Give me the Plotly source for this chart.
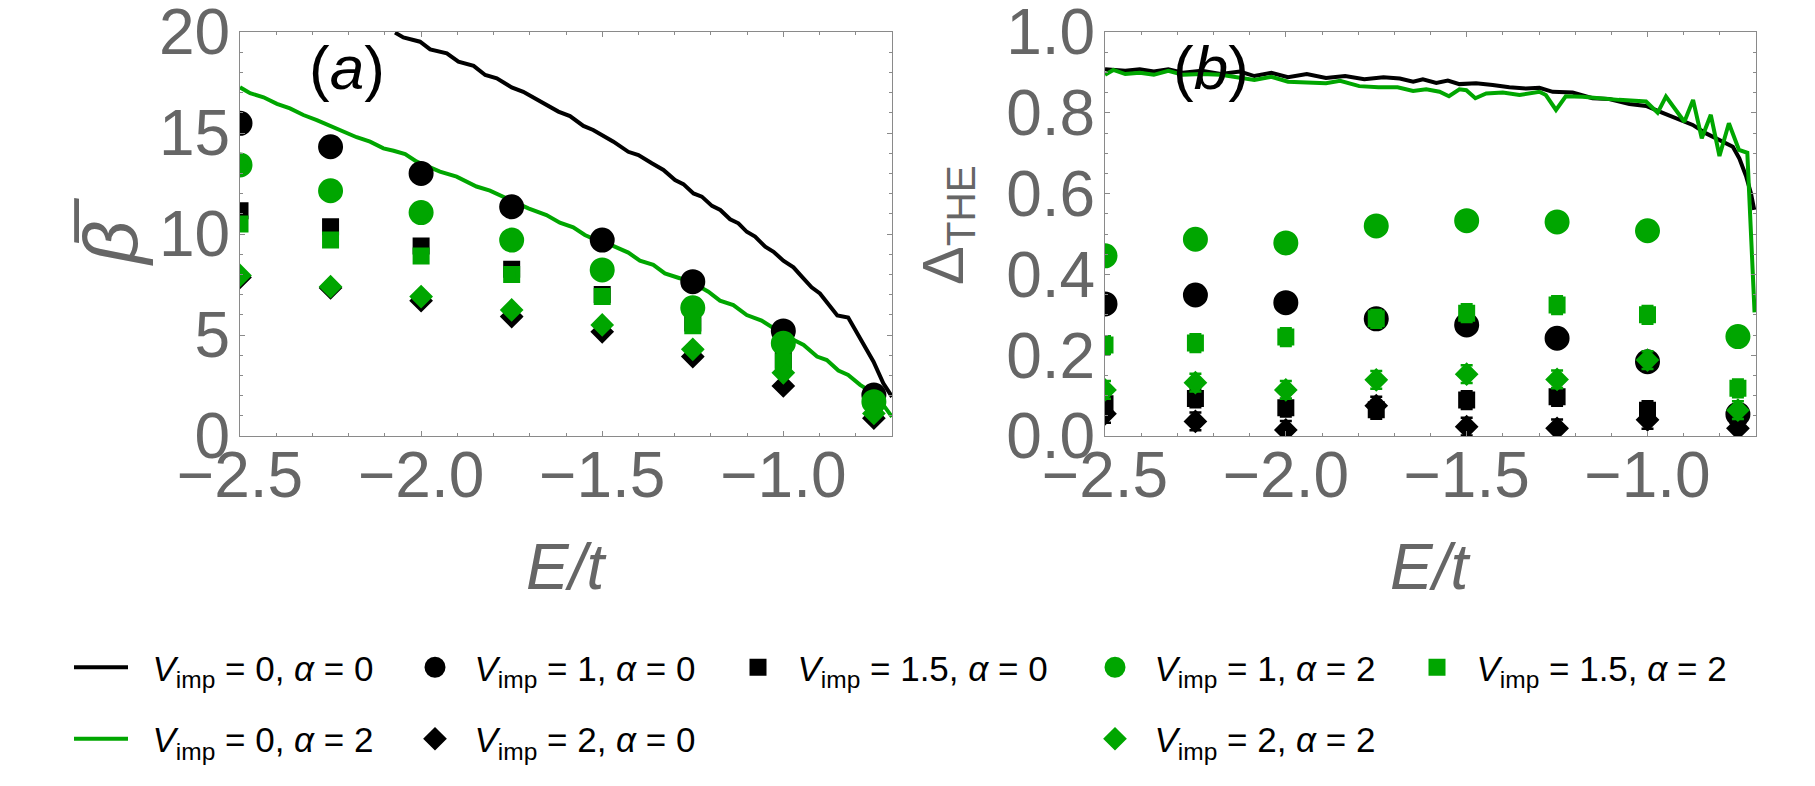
import plotly.graph_objects as go

# ---- data ----
E_pts = [-2.5, -2.25, -2.0, -1.75, -1.5, -1.25, -1.0, -0.75]

# panel (a): beta-bar
beta_v1_a0 = [15.48, 14.32, 13.0, 11.35, 9.7, 7.64, 5.2, 2.03]
beta_v15_a0 = [11.15, 10.36, 9.4, 8.25, 7.01, 5.6, 3.75, 1.3]
beta_v2_a0 = [7.85, 7.33, 6.7, 5.91, 5.16, 3.93, 2.48, 0.88]
beta_v1_a2 = [13.42, 12.14, 11.06, 9.7, 8.22, 6.35, 4.59, 1.7]
beta_v15_a2 = [10.5, 9.7, 8.91, 8.0, 6.9, 5.46, 3.68, 1.4]
beta_v2_a2 = [7.95, 7.39, 6.9, 6.24, 5.5, 4.29, 3.13, 1.12]

beta_line_a0_E = [-2.072, -2.049, -2.003, -1.975, -1.929, -1.897, -1.855, -1.823, -1.791, -1.750,
                  -1.718, -1.662, -1.621, -1.589, -1.552, -1.525, -1.469, -1.428, -1.400, -1.363,
                  -1.331, -1.299, -1.276, -1.248, -1.225, -1.197, -1.174, -1.147, -1.124, -1.101,
                  -1.078, -1.050, -1.027, -1.000, -0.972, -0.949, -0.922, -0.899, -0.876, -0.851,
                  -0.821, -0.788, -0.751, -0.724, -0.700]
beta_line_a0 = [19.97, 19.73, 19.52, 19.14, 18.94, 18.53, 18.32, 17.87, 17.71, 17.26,
                17.04, 16.47, 16.06, 15.84, 15.35, 15.15, 14.57, 14.07, 13.91, 13.50,
                13.17, 12.67, 12.47, 12.01, 11.85, 11.39, 11.19, 10.73, 10.53, 10.11,
                9.87, 9.37, 9.12, 8.68, 8.35, 7.89, 7.36, 7.06, 6.53, 5.97,
                5.87, 4.83, 3.68, 2.61, 1.94]

beta_line_a2_E = [-2.5, -2.472, -2.435, -2.398, -2.362, -2.325, -2.288, -2.251, -2.215, -2.178,
                  -2.141, -2.104, -2.076, -2.044, -2.012, -1.948, -1.902, -1.847, -1.810, -1.773,
                  -1.741, -1.704, -1.654, -1.617, -1.580, -1.548, -1.516, -1.470, -1.428, -1.396,
                  -1.359, -1.327, -1.286, -1.244, -1.207, -1.175, -1.138, -1.101, -1.060, -1.027,
                  -0.990, -0.944, -0.907, -0.880, -0.848, -0.821, -0.788, -0.751, -0.724, -0.700]
beta_line_a2 = [17.26, 16.97, 16.77, 16.44, 16.22, 15.89, 15.64, 15.35, 15.12, 14.79,
                14.57, 14.24, 14.12, 13.96, 13.58, 13.09, 12.84, 12.35, 12.15, 11.85,
                11.60, 11.27, 10.94, 10.56, 10.33, 9.95, 9.70, 9.41, 9.08, 8.68,
                8.47, 8.05, 7.81, 7.52, 7.14, 6.70, 6.48, 5.99, 5.71, 5.33,
                4.92, 4.51, 3.93, 3.76, 3.24, 3.02, 2.53, 2.11, 1.54, 0.95]

# panel (b): Delta_THE
the_v1_a0 = [0.327, 0.349, 0.33, 0.29, 0.275, 0.242, 0.184, 0.054]
the_v15_a0 = [0.08, 0.093, 0.07, 0.065, 0.089, 0.097, 0.064, 0.05]
the_v2_a0 = [0.055, 0.036, 0.015, 0.075, 0.023, 0.019, 0.04, 0.019]
the_v1_a2 = [0.446, 0.487, 0.478, 0.52, 0.533, 0.53, 0.508, 0.246]
the_v15_a2 = [0.225, 0.23, 0.245, 0.29, 0.304, 0.324, 0.30, 0.118]
the_v2_a2 = [0.114, 0.132, 0.114, 0.139, 0.153, 0.14, 0.188, 0.064]
the_err_circle = [0.012, 0.012, 0.012, 0.012, 0.012, 0.012, 0.012, 0.012]
the_err_square = [0.022, 0.022, 0.022, 0.022, 0.022, 0.022, 0.022, 0.022]
the_err_diamond = [0.022, 0.022, 0.022, 0.022, 0.022, 0.022, 0.022, 0.022]

the_line_a0_E = [-2.5, -2.444, -2.404, -2.365, -2.325, -2.285, -2.233, -2.180, -2.127, -2.087,
                 -2.040, -1.994, -1.942, -1.889, -1.836, -1.783, -1.730, -1.685, -1.648, -1.621,
                 -1.584, -1.552, -1.520, -1.474, -1.428, -1.382, -1.336, -1.299, -1.262, -1.207,
                 -1.152, -1.106, -1.050, -1.004, -0.958, -0.912, -0.875, -0.838, -0.801, -0.764,
                 -0.746, -0.727, -0.714, -0.705]
the_line_a0 = [0.908, 0.904, 0.908, 0.902, 0.908, 0.899, 0.904, 0.896, 0.902, 0.891,
               0.899, 0.888, 0.896, 0.886, 0.891, 0.883, 0.888, 0.885, 0.877, 0.883,
               0.874, 0.880, 0.871, 0.873, 0.869, 0.863, 0.860, 0.862, 0.852, 0.850,
               0.836, 0.834, 0.822, 0.817, 0.800, 0.784, 0.770, 0.749, 0.733, 0.716,
               0.687, 0.642, 0.601, 0.560]

the_line_a2_E = [-2.5, -2.477, -2.444, -2.404, -2.365, -2.325, -2.285, -2.233, -2.180, -2.127,
                 -2.087, -2.040, -1.994, -1.942, -1.889, -1.850, -1.797, -1.744, -1.691, -1.648,
                 -1.612, -1.575, -1.549, -1.520, -1.501, -1.476, -1.446, -1.400, -1.354, -1.299,
                 -1.281, -1.253, -1.226, -1.180, -1.134, -1.079, -1.004, -0.972, -0.949, -0.898,
                 -0.874, -0.850, -0.825, -0.801, -0.775, -0.747, -0.724, -0.714, -0.704]
the_line_a2 = [0.894, 0.906, 0.896, 0.899, 0.894, 0.904, 0.894, 0.896, 0.894, 0.888,
               0.881, 0.889, 0.877, 0.875, 0.873, 0.879, 0.866, 0.863, 0.863, 0.854,
               0.858, 0.852, 0.841, 0.858, 0.856, 0.836, 0.848, 0.850, 0.844, 0.852,
               0.844, 0.807, 0.841, 0.840, 0.836, 0.832, 0.828, 0.800, 0.840, 0.778,
               0.832, 0.737, 0.795, 0.693, 0.774, 0.708, 0.701, 0.510, 0.306]

x_ticks = [-2.5, -2.0, -1.5, -1.0]
x_ticklabels = ["\u22122.5", "\u22122.0", "\u22121.5", "\u22121.0"]
ya_ticks = [0, 5, 10, 15, 20]
yb_ticks = [0.0, 0.2, 0.4, 0.6, 0.8, 1.0]
yb_ticklabels = ["0.0", "0.2", "0.4", "0.6", "0.8", "1.0"]

# ---- styling ----
W, H = 1815, 786
OFF = 8  # page body margin
BLACK = "#000000"
GREEN = "#00a600"
GRAY = "#666666"
AXGRAY = "#8a8a8a"
FONT = "Liberation Sans"
NB = "\u00a0\u00a0"


def fx(px):
    return (px - OFF) / W


def fy(py):
    return 1 - (py - OFF) / H


def lab(v, a):
    return NB + "<i>V</i><sub>imp</sub> = %s, <i>\u03b1</i> = %s" % (v, a)


MARK = {
    "circle": dict(size=20, lw=5),
    "square": dict(size=12, lw=5),
    "diamond": dict(size=15, lw=3),
}

fig = go.Figure()


def line(x, y, color, name, legend, show, xa, ya):
    fig.add_trace(go.Scatter(
        x=x, y=y, mode="lines", line=dict(color=color, width=4),
        name=name, legend=legend, legendgroup=name + legend, showlegend=show,
        xaxis=xa, yaxis=ya, hoverinfo="skip",
    ))


def points(x, y, color, symbol, name, legend, show, xa, ya, err=None):
    m = MARK[symbol]
    kw = {}
    if err is not None:
        kw["error_y"] = dict(type="data", array=err, visible=True, color=color,
                             thickness=2.5, width=6)
    fig.add_trace(go.Scatter(
        x=x, y=y, mode="markers", cliponaxis=True,
        marker=dict(symbol=symbol, size=m["size"], color=color,
                    line=dict(color=color, width=m["lw"])),
        name=name, legend=legend, legendgroup=name + legend, showlegend=show,
        xaxis=xa, yaxis=ya, hoverinfo="skip", **kw,
    ))


# panel (a)
line(beta_line_a0_E, beta_line_a0, BLACK, lab(0, 0), "legend", True, "x", "y")
line(beta_line_a2_E, beta_line_a2, GREEN, lab(0, 2), "legend", True, "x", "y")
points(E_pts, beta_v1_a0, BLACK, "circle", lab(1, 0), "legend2", True, "x", "y")
points(E_pts, beta_v15_a0, BLACK, "square", lab(1.5, 0), "legend3", True, "x", "y")
points(E_pts, beta_v2_a0, BLACK, "diamond", lab(2, 0), "legend2", True, "x", "y")
points(E_pts, beta_v1_a2, GREEN, "circle", lab(1, 2), "legend4", True, "x", "y")
points(E_pts, beta_v15_a2, GREEN, "square", lab(1.5, 2), "legend5", True, "x", "y")
points(E_pts, beta_v2_a2, GREEN, "diamond", lab(2, 2), "legend4", True, "x", "y")

# panel (b)
line(the_line_a0_E, the_line_a0, BLACK, "b0", "legend", False, "x2", "y2")
line(the_line_a2_E, the_line_a2, GREEN, "b2", "legend", False, "x2", "y2")
points(E_pts, the_v1_a0, BLACK, "circle", "b10", "legend", False, "x2", "y2", the_err_circle)
points(E_pts, the_v15_a0, BLACK, "square", "b150", "legend", False, "x2", "y2", the_err_square)
points(E_pts, the_v2_a0, BLACK, "diamond", "b20", "legend", False, "x2", "y2", the_err_diamond)
points(E_pts, the_v1_a2, GREEN, "circle", "b12", "legend", False, "x2", "y2", the_err_circle)
points(E_pts, the_v15_a2, GREEN, "square", "b152", "legend", False, "x2", "y2", the_err_square)
points(E_pts, the_v2_a2, GREEN, "diamond", "b22", "legend", False, "x2", "y2", the_err_diamond)

tickfont = dict(family=FONT, size=64, color=GRAY)
axis_common = dict(
    showline=True, linecolor=AXGRAY, linewidth=1.2, mirror="ticks",
    ticks="inside", ticklen=5, tickwidth=1, tickcolor=AXGRAY,
    showgrid=False, zeroline=False, tickfont=tickfont, automargin=False,
    ticklabeloverflow="allow",
)
xcommon = dict(axis_common, range=[-2.5, -0.7], tickvals=x_ticks, ticktext=x_ticklabels,
               minor=dict(dtick=0.1, ticks="inside", ticklen=3, tickcolor=AXGRAY),
               ticklabelstandoff=-17)

dom_y = [fy(436), fy(32)]
fig.update_layout(
    width=W, height=H,
    margin=dict(l=0, r=0, t=0, b=0, autoexpand=False),
    paper_bgcolor="white", plot_bgcolor="white",
    font=dict(family=FONT, color=BLACK),
    xaxis=dict(xcommon, domain=[fx(240), fx(892)], anchor="y"),
    yaxis=dict(axis_common, domain=dom_y, anchor="x", range=[0, 20], tickvals=ya_ticks,
               minor=dict(dtick=1, ticks="inside", ticklen=3, tickcolor=AXGRAY),
               ticklabelstandoff=-4),
    xaxis2=dict(xcommon, domain=[fx(1105), fx(1756)], anchor="y2"),
    yaxis2=dict(axis_common, domain=dom_y, anchor="x2", range=[0, 1.0], tickvals=yb_ticks,
                ticktext=yb_ticklabels,
                minor=dict(dtick=0.05, ticks="inside", ticklen=3, tickcolor=AXGRAY),
                ticklabelstandoff=-4),
)

leg_font = dict(family=FONT, size=35, color=BLACK)
legend_cols = {"legend": (69, 54), "legend2": (415, 30), "legend3": (738, 30),
               "legend4": (1095, 30), "legend5": (1417, 30)}
for key, (lx, iw) in legend_cols.items():
    fig.update_layout({key: dict(
        x=fx(lx), y=fy(638), xref="container", yref="container",
        xanchor="left", yanchor="top", orientation="v",
        itemwidth=iw, font=leg_font, bgcolor="rgba(0,0,0,0)",
        tracegroupgap=23, itemsizing="trace", itemclick=False,
    )})


def note(px, py, text, size, color, angle=0):
    fig.add_annotation(x=fx(px), y=fy(py), xref="paper", yref="paper", text=text,
                       xanchor="center", yanchor="middle", textangle=angle,
                       showarrow=False, font=dict(family=FONT, size=size, color=color))


note(347, 67, "(<i>a</i>)", 62, BLACK)
note(1211, 67, "(<i>b</i>)", 62, BLACK)
note(566, 567, "<i>E/t</i>", 64, GRAY)
note(1430, 567, "<i>E/t</i>", 64, GRAY)
note(110, 232, "<i>\u03b2\u0305</i>", 76, GRAY, -90)
note(947, 225, "\u0394<sub>THE</sub>", 58, GRAY, -90)

fig.write_html("out.html")
